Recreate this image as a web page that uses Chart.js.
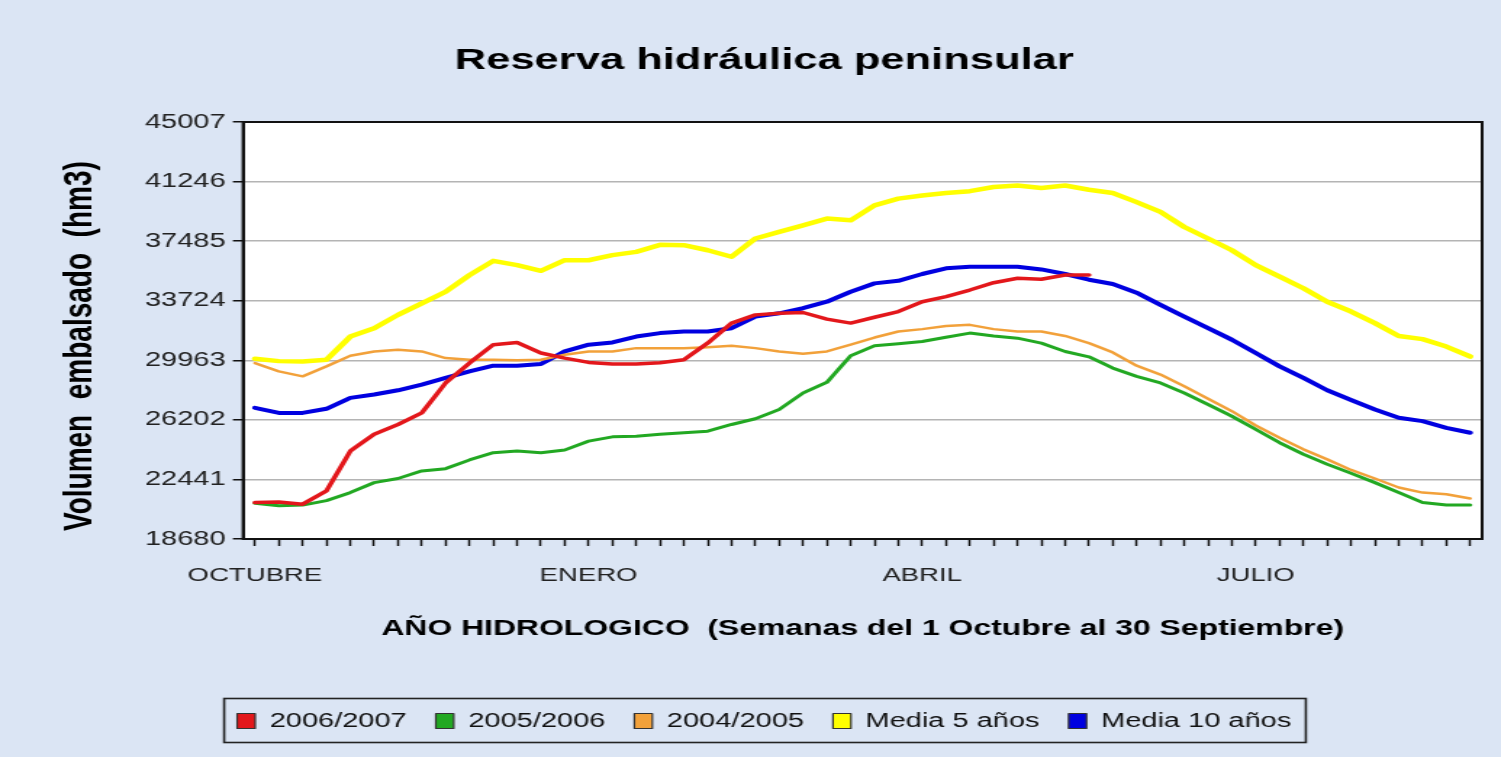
<!DOCTYPE html>
<html>
<head>
<meta charset="utf-8">
<title>Reserva hidráulica peninsular</title>
<script src="https://cdn.jsdelivr.net/npm/chart.js@4.4.0/dist/chart.umd.min.js"></script>
<style>
    html, body {
        margin: 0;
        padding: 0;
        overflow: hidden;
        background: #dbe5f4;
    }
    /* the original picture is a narrower chart stretched sideways */
    #chart-wrap {
        width: 1035px;
        height: 757px;
        transform: scaleX(1.4502);
        transform-origin: 0 0;
    }
</style>
</head>
<body>
<div id="chart-wrap">
    <canvas id="reserve-chart" width="1035" height="757"></canvas>
</div>
<script>
// Month names shown under the weekly ticks (week index -> label)
const monthTicks = {0: "OCTUBRE", 14: "ENERO", 28: "ABRIL", 42: "JULIO"};
const weekCount = 52;

// Weekly reserve (hm3)
const season0607 = [20980, 21020, 20880, 21720, 24230, 25290, 25910, 26640, 28530, 29790,
    30950, 31090, 30420, 30100, 29830, 29730, 29730, 29810, 30000, 31050,
    32310, 32830, 32930, 32980, 32560, 32310, 32680, 33040, 33660, 33980,
    34400, 34860, 35140, 35080, 35350, 35350];
const season0506 = [20940, 20780, 20820, 21100, 21610, 22240, 22500, 22980, 23120, 23670,
    24130, 24230, 24130, 24300, 24860, 25130, 25170, 25290, 25390, 25490,
    25910, 26270, 26860, 27900, 28570, 30250, 30880, 31010, 31150, 31420,
    31680, 31500, 31360, 31050, 30520, 30180, 29470, 28950, 28530, 27900,
    27170, 26430, 25600, 24760, 24030, 23400, 22830, 22240, 21610, 20980,
    20820, 20820];
const season0405 = [29790, 29260, 28950, 29580, 30250, 30520, 30630, 30520, 30100, 30000,
    30000, 29960, 30000, 30310, 30520, 30520, 30730, 30730, 30730, 30790,
    30880, 30730, 30520, 30380, 30520, 30950, 31400, 31780, 31930, 32130,
    32200, 31930, 31780, 31780, 31500, 31050, 30460, 29620, 29060, 28320,
    27530, 26750, 25850, 25070, 24340, 23710, 23040, 22500, 21930, 21610,
    21510, 21240];
const mean5Years = [30060, 29910, 29890, 30000, 31460, 31990, 32830, 33560, 34290, 35340,
    36240, 35970, 35610, 36280, 36280, 36600, 36810, 37250, 37230, 36910,
    36500, 37650, 38070, 38480, 38910, 38800, 39740, 40170, 40370, 40520,
    40640, 40900, 41000, 40840, 41000, 40730, 40520, 39950, 39330, 38380,
    37650, 36910, 35970, 35240, 34510, 33660, 33040, 32310, 31500, 31300,
    30830, 30200];
const mean10Years = [26960, 26640, 26640, 26900, 27590, 27800, 28070, 28430, 28850, 29260,
    29620, 29620, 29730, 30520, 30950, 31090, 31460, 31680, 31780, 31780,
    31990, 32720, 32930, 33250, 33660, 34290, 34820, 34980, 35410, 35770,
    35870, 35870, 35870, 35700, 35410, 35050, 34780, 34230, 33460, 32720,
    31990, 31260, 30420, 29580, 28850, 28070, 27450, 26860, 26330, 26120,
    25700, 25390];

// Y axis ticks as printed
const yMin = 18680;
const yMax = 45007;
const yStep = 3761;

const weekLabels = Array.from({length: weekCount}, (_, i) => monthTicks[i] || "");

const fontFamily = "'Liberation Sans', Arial, sans-serif";
const seriesColors = ["#e3171b", "#22a822", "#f2a13a", "#ffff00", "#0000e0"];

// White plot area, black frame and the box around the legend
const framePlugin = {
    id: "frame",
    beforeDraw(chart) {
        const {ctx, chartArea: a} = chart;
        ctx.save();
        ctx.fillStyle = "#dbe5f4";
        ctx.fillRect(0, 0, chart.width, chart.height);
        ctx.fillStyle = "#ffffff";
        ctx.fillRect(a.left, a.top, a.right - a.left, a.bottom - a.top);
        ctx.restore();
    },
    afterDraw(chart) {
        const {ctx, chartArea: a} = chart;
        ctx.save();
        ctx.strokeStyle = "#111";
        ctx.lineWidth = 2;
        ctx.strokeRect(a.left, a.top, a.right - a.left, a.bottom - a.top);

        let boxes = chart.legend.legendHitBoxes;
        if (boxes.length) {
            let left = Math.min(...boxes.map(b => b.left)) - 9;
            let right = Math.max(...boxes.map(b => b.left + b.width)) + 10;
            let mid = boxes[0].top + boxes[0].height / 2;
            ctx.lineWidth = 1.6;
            ctx.strokeStyle = "#222";
            ctx.strokeRect(left, mid - 22.5, right - left, 44);
        }
        ctx.restore();
    }
};

const ctx = document.getElementById("reserve-chart").getContext("2d");
const chart = new Chart(ctx, {
    type: "line",
    data: {
        labels: weekLabels,
        datasets: [{
            label: "2006/2007",
            data: season0607,
            borderColor: seriesColors[0],
            backgroundColor: seriesColors[0],
            borderWidth: 3.5,
        }, {
            label: "2005/2006",
            data: season0506,
            borderColor: seriesColors[1],
            backgroundColor: seriesColors[1],
            borderWidth: 3,
        }, {
            label: "2004/2005",
            data: season0405,
            borderColor: seriesColors[2],
            backgroundColor: seriesColors[2],
            borderWidth: 2.5,
        }, {
            label: "Media 5 años",
            data: mean5Years,
            borderColor: seriesColors[3],
            backgroundColor: seriesColors[3],
            borderWidth: 4.5,
        }, {
            label: "Media 10 años",
            data: mean10Years,
            borderColor: seriesColors[4],
            backgroundColor: seriesColors[4],
            borderWidth: 4,
        },]
    },
    options: {
        responsive: false,
        animation: false,
        devicePixelRatio: 1,
        elements: {
            point: {radius: 0},
            line: {tension: 0, borderCapStyle: "round", borderJoinStyle: "round"},
        },
        layout: {
            padding: {left: 32, right: 13, top: 0, bottom: 16},
        },
        plugins: {
            tooltip: {enabled: false},
            title: {
                display: true,
                text: "Reserva hidráulica peninsular",
                color: "#000",
                font: {family: fontFamily, size: 30, weight: "bold"},
                padding: {top: 43, bottom: 43},
            },
            legend: {
                position: "bottom",
                labels: {
                    boxWidth: 12.4,
                    boxHeight: 15,
                    padding: 20,
                    color: "#111",
                    font: {family: fontFamily, size: 20},
                    generateLabels(chart) {
                        return Chart.defaults.plugins.legend.labels.generateLabels(chart).map((item, i) => {
                            item.fillStyle = seriesColors[i];
                            item.strokeStyle = "#333";
                            item.lineWidth = 1.2;
                            return item;
                        });
                    },
                },
            },
        },
        scales: {
            x: {
                type: "category",
                offset: true,
                grid: {
                    drawOnChartArea: false,
                    drawTicks: true,
                    tickLength: 7,
                    tickColor: "#111",
                    tickWidth: 1.5,
                },
                border: {display: true, color: "#111", width: 2},
                ticks: {
                    autoSkip: false,
                    maxRotation: 0,
                    padding: 18,
                    color: "#222",
                    font: {family: fontFamily, size: 19},
                },
                title: {
                    display: true,
                    text: "AÑO HIDROLOGICO  (Semanas del 1 Octubre al 30 Septiembre)",
                    color: "#000",
                    font: {family: fontFamily, size: 22, weight: "bold"},
                    padding: {top: 0, bottom: 48.8},
                },
                afterFit(scale) {
                    scale.height = 152;
                },
            },
            y: {
                min: yMin,
                max: yMax,
                grid: {
                    color: "#b4b4b4",
                    lineWidth: 1.5,
                    tickLength: 7,
                    tickColor: "#111",
                    tickWidth: 1.5,
                },
                border: {display: true, color: "#111", width: 2},
                ticks: {
                    stepSize: yStep,
                    padding: 5,
                    color: "#222",
                    font: {family: fontFamily, size: 20},
                    callback: (value) => String(Math.round(value)),
                },
                title: {
                    display: true,
                    text: "Volumen  embalsado  (hm3)    ",
                    color: "#000",
                    font: {family: fontFamily, size: 28, weight: "bold"},
                    padding: {top: 6.5, bottom: 0},
                },
                afterFit(scale) {
                    scale.width = 135.6;
                },
            },
        },
    },
    plugins: [framePlugin],
});
</script>
</body>
</html>
